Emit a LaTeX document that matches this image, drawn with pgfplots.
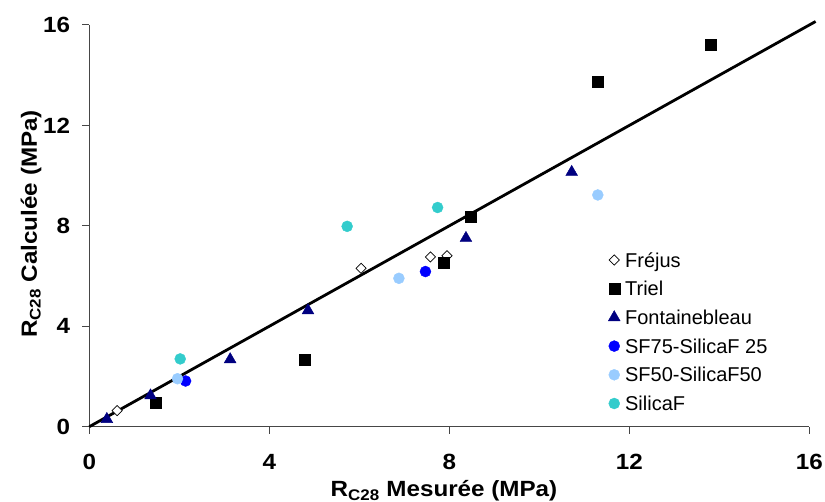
\documentclass[border=0pt]{standalone}
\usepackage{pgfplots}
\pgfplotsset{compat=1.18}
\usepackage{fontspec}
\setmainfont{Liberation Sans}
\newfontfamily\labelfont{Liberation Sans}[FakeStretch=1.1]
\definecolor{navyc}{RGB}{0,0,128}
\definecolor{bluec}{RGB}{0,0,255}
\definecolor{lightbluec}{RGB}{153,204,255}
\definecolor{turqc}{RGB}{51,204,204}
\definecolor{axisc}{RGB}{70,70,70}
\begin{document}
\begin{tikzpicture}
\begin{axis}[
  at={(0,0)}, anchor=south west,
  scale only axis, width=720pt, height=401.7pt,
  xmin=0, xmax=16, ymin=0, ymax=16,
  clip=false,
  axis x line=bottom, axis y line=left,
  axis line style={-, draw=axisc, line width=1pt},
  tick style={draw=axisc, line width=1pt},
  tick align=outside, major tick length=7pt,
  xtick={0,4,8,12,16}, ytick={0,4,8,12,16},
  /pgf/number format/assume math mode=true,
  ticklabel style={font=\labelfont\bfseries\fontsize{22}{24}\selectfont, inner sep=0pt},
  xticklabel style={anchor=north, yshift=-20pt},
  yticklabel style={anchor=east, xshift=-12pt},
  xlabel={R\textsubscript{C28} Mesurée (MPa)},
  ylabel={R\textsubscript{C28} Calculée (MPa)},
  label style={font=\labelfont\bfseries\fontsize{22}{24}\selectfont, inner sep=0pt},
  xlabel style={at={(axis description cs:0.4926,0)}, anchor=base, yshift=-70pt},
  ylabel style={at={(axis description cs:0,0.5046)}, anchor=base, yshift=52.3pt},
  legend style={draw=none, fill=none, inner sep=0pt, at={(axis cs:11.53,7.01)}, anchor=north west,
    font=\fontsize{20}{22}\selectfont, row sep=10.5pt, column sep=5pt,
    nodes={inner sep=0pt, text height=16.2pt, text depth=2pt}},
  legend cell align=left,
  legend image code/.code={\draw[mark repeat=2,mark phase=2,#1] plot coordinates {(0pt,0pt)(6pt,0pt)(12pt,0pt)};},
]
\addplot[black, line width=2.8pt, no marks, forget plot] coordinates {(0,0) (16.14,16.14)};
\addplot[only marks, mark=square*, mark size=3.6pt, mark options={rotate=45, fill=white, draw=black, line width=0.7pt}]
  coordinates {(0.62,0.64) (6.04,6.31) (7.58,6.76) (7.95,6.81)};
\addlegendentry{Fréjus}
\addplot[only marks, mark=square*, mark size=5.5pt, mark options={fill=black, draw=black}]
  coordinates {(1.48,0.97) (4.78,2.66) (7.88,6.52) (8.48,8.38) (11.29,13.75) (13.81,15.23)};
\addlegendentry{Triel}
\addplot[only marks, mark=triangle*, mark size=6.8pt, mark options={fill=navyc, draw=navyc}]
  coordinates {(0.39,0.30) (1.36,1.24) (3.13,2.68) (4.86,4.63) (8.37,7.51) (10.72,10.14)};
\addlegendentry{Fontainebleau}
\addplot[only marks, mark=*, mark size=5.5pt, mark options={fill=bluec, draw=bluec}]
  coordinates {(2.14,1.82) (7.47,6.18)};
\addlegendentry{SF75-SilicaF 25}
\addplot[only marks, mark=*, mark size=5.5pt, mark options={fill=lightbluec, draw=lightbluec}]
  coordinates {(1.96,1.91) (6.88,5.91) (11.30,9.23)};
\addlegendentry{SF50-SilicaF50}
\addplot[only marks, mark=*, mark size=5.5pt, mark options={fill=turqc, draw=turqc}]
  coordinates {(2.02,2.70) (5.73,7.98) (7.74,8.73)};
\addlegendentry{SilicaF}
\end{axis}
\pgfresetboundingbox
\useasboundingbox (-89.3pt,-75.3pt) rectangle (735.7pt,426.7pt);
\end{tikzpicture}
\end{document}
